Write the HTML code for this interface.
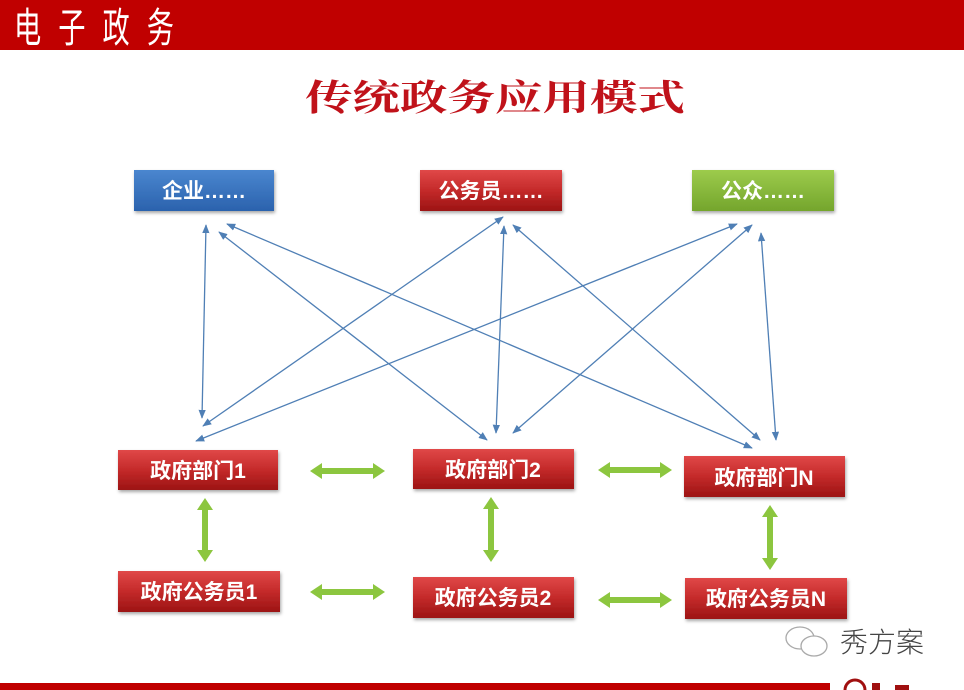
<!DOCTYPE html>
<html><head><meta charset="utf-8">
<style>
html,body{margin:0;padding:0;background:#fff;}
body{width:964px;height:690px;overflow:hidden;position:relative;font-family:"Liberation Sans","Noto Sans CJK SC",sans-serif;}
</style></head>
<body>
<svg width="964" height="690" viewBox="0 0 964 690" xmlns="http://www.w3.org/2000/svg" style="position:absolute;left:0;top:0">
<defs>
<linearGradient id="gr" x1="0" y1="0" x2="0" y2="1"><stop offset="0" stop-color="#e04848"/><stop offset="0.5" stop-color="#c42a2a"/><stop offset="1" stop-color="#9c1414"/></linearGradient>
<linearGradient id="gb" x1="0" y1="0" x2="0" y2="1"><stop offset="0" stop-color="#4a86cf"/><stop offset="1" stop-color="#2b62ad"/></linearGradient>
<linearGradient id="gg" x1="0" y1="0" x2="0" y2="1"><stop offset="0" stop-color="#9ccb4c"/><stop offset="1" stop-color="#74a52c"/></linearGradient>
<marker id="ah" viewBox="0 0 10 10" refX="9" refY="5" markerWidth="7" markerHeight="7" orient="auto-start-reverse"><path d="M0,1 L10,5 L0,9 z" fill="#4f7fb5"/></marker>
<filter id="sh" x="-10%" y="-20%" width="120%" height="150%"><feDropShadow dx="1" dy="2" stdDeviation="1.5" flood-color="#000" flood-opacity="0.35"/></filter>
</defs>
<rect x="0" y="0" width="964" height="50" fill="#c00000"/>
<g transform="translate(14,42) scale(0.8,1.2)">
<text x="0" y="0" font-size="34" fill="#fff" font-family="'Noto Sans CJK SC',sans-serif" textLength="200" lengthAdjust="spacing">电子政务</text>
</g>
<text x="495" y="110" font-size="36" font-weight="bold" fill="#c0121a" text-anchor="middle" font-family="'Noto Serif CJK SC','Noto Sans CJK SC',serif" textLength="380" lengthAdjust="spacingAndGlyphs">传统政务应用模式</text>

<g stroke="#4f7fb5" stroke-width="1.3" fill="none" marker-start="url(#ah)" marker-end="url(#ah)">
<line x1="206" y1="225" x2="202" y2="418"/>
<line x1="227" y1="224" x2="752" y2="448"/>
<line x1="219" y1="232" x2="487" y2="440"/>
<line x1="503" y1="217" x2="203" y2="426"/>
<line x1="504" y1="226" x2="496" y2="433"/>
<line x1="513" y1="225" x2="760" y2="440"/>
<line x1="737" y1="224" x2="196" y2="441"/>
<line x1="752" y1="225" x2="513" y2="433"/>
<line x1="761" y1="233" x2="776" y2="440"/>
</g>

<g filter="url(#sh)">
<rect x="134" y="170" width="140" height="41" fill="url(#gb)"/>
<rect x="420" y="170" width="142" height="41" fill="url(#gr)"/>
<rect x="692" y="170" width="142" height="41" fill="url(#gg)"/>
<rect x="118" y="450" width="160" height="40" fill="url(#gr)"/>
<rect x="413" y="449" width="161" height="40" fill="url(#gr)"/>
<rect x="684" y="456" width="161" height="41" fill="url(#gr)"/>
<rect x="118" y="571" width="162" height="41" fill="url(#gr)"/>
<rect x="413" y="577" width="161" height="41" fill="url(#gr)"/>
<rect x="685" y="578" width="162" height="41" fill="url(#gr)"/>
</g>
<g fill="#fff" font-size="21" font-weight="bold" text-anchor="middle" font-family="'Liberation Sans','Noto Sans CJK SC',sans-serif">
<text x="204" y="198">企业……</text>
<text x="491" y="198">公务员……</text>
<text x="763" y="198">公众……</text>
<text x="198" y="478">政府部门1</text>
<text x="493" y="477">政府部门2</text>
<text x="764" y="485">政府部门N</text>
<text x="199" y="599">政府公务员1</text>
<text x="493" y="605">政府公务员2</text>
<text x="766" y="606">政府公务员N</text>
</g>

<g fill="#8cc63f">
<path d="M310,471 l12,-8 v5 h51 v-5 l12,8 l-12,8 v-5 h-51 v5 z"/>
<path d="M598,470 l12,-8 v5 h50 v-5 l12,8 l-12,8 v-5 h-50 v5 z"/>
<path d="M310,592 l12,-8 v5 h51 v-5 l12,8 l-12,8 v-5 h-51 v5 z"/>
<path d="M598,600 l12,-8 v5 h50 v-5 l12,8 l-12,8 v-5 h-50 v5 z"/>
<path d="M205,498 l-8,12 h5 v40 h-5 l8,12 l8,-12 h-5 v-40 h5 z"/>
<path d="M491,497 l-8,12 h5 v41 h-5 l8,12 l8,-12 h-5 v-41 h5 z"/>
<path d="M770,505 l-8,12 h5 v41 h-5 l8,12 l8,-12 h-5 v-41 h5 z"/>
</g>

<g stroke="#aaa" stroke-width="1.3" fill="#fff">
<ellipse cx="800" cy="638" rx="14" ry="11"/>
<ellipse cx="814" cy="646" rx="13" ry="10"/>
</g>
<text x="840" y="652" font-size="28" fill="#444" font-family="'Noto Sans CJK SC',sans-serif" font-weight="300">秀方案</text>
<rect x="0" y="683" width="830" height="7" fill="#c00000"/>
<circle cx="855" cy="690" r="10" fill="none" stroke="#a01010" stroke-width="3"/>
<rect x="872" y="683" width="8" height="7" fill="#a01010"/>
<rect x="895" y="685" width="14" height="5" fill="#a01010"/>
</svg>
</body></html>
